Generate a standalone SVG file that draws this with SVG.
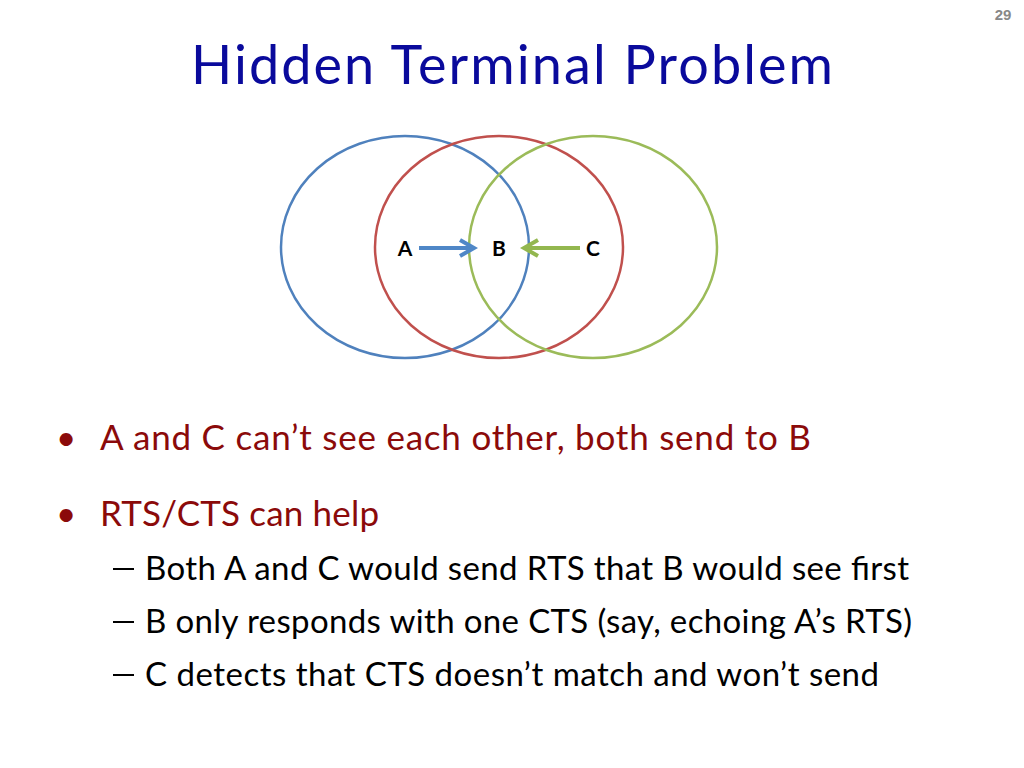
<svg xmlns="http://www.w3.org/2000/svg" width="1024" height="768" viewBox="0 0 1024 768">
<style>
text{font-family:Lato,"Open Sans",sans-serif}
.c{fill:none;stroke-width:2.5}
.n{font-weight:bold;font-size:21px;fill:#000;text-anchor:middle}
.b{font-size:35px;fill:#8b0a0a}
.s{font-size:33px;fill:#000}
</style>
<defs>
<marker id="ab" viewBox="0 0 10 10" refX="8" refY="5" markerWidth="5" markerHeight="5" orient="auto" markerUnits="strokeWidth"><path d="M1 1L8 5L1 9" fill="none" stroke="#4f87c7" stroke-width="2"/></marker>
<marker id="ag" viewBox="0 0 10 10" refX="8" refY="5" markerWidth="5" markerHeight="5" orient="auto" markerUnits="strokeWidth"><path d="M1 1L8 5L1 9" fill="none" stroke="#93b74f" stroke-width="2"/></marker>
</defs>
<rect width="1024" height="768" fill="#fff"/>
<text x="1003" y="20" font-size="15" font-weight="bold" fill="#888" text-anchor="middle" style="font-family:'Liberation Sans',sans-serif">29</text>
<text x="512" y="84" font-size="54" fill="#0a0a9c" text-anchor="middle" textLength="642">Hidden Terminal Problem</text>
<g id="circles">
<ellipse id="blue" class="c" cx="405" cy="247" rx="124" ry="111" stroke="#4f81bd"/>
<ellipse id="red" class="c" cx="499" cy="247" rx="124" ry="111" stroke="#c0504d"/>
<ellipse id="green" class="c" cx="593" cy="247" rx="124" ry="111" stroke="#9bbb59"/>
</g>
<g id="nA"><text class="n" x="405" y="256">A</text></g>
<g id="nB"><text class="n" x="499" y="256">B</text></g>
<g id="nC"><text class="n" x="593" y="256">C</text></g>
<g id="connectors">
<line x1="419" y1="248" x2="474" y2="248" stroke="#4f87c7" stroke-width="4" marker-end="url(#ab)"/>
<line x1="580" y1="248" x2="524" y2="248" stroke="#93b74f" stroke-width="4" marker-end="url(#ag)"/>
</g>
<g>
<text class="b" x="56" y="450">•</text>
<text class="b" x="100" y="450" textLength="711">A and C can’t see each other, both send to B</text>
<text class="b" x="56" y="526">•</text>
<text class="b" x="100" y="526" textLength="279">RTS/CTS can help</text>
<line x1="113" y1="569" x2="134" y2="569" stroke="#000" stroke-width="2"/>
<text class="s" x="145" y="580" textLength="764">Both A and C would send RTS that B would see first</text>
<line x1="113" y1="622" x2="134" y2="622" stroke="#000" stroke-width="2"/>
<text class="s" x="145" y="633" textLength="767">B only responds with one CTS (say, echoing A’s RTS)</text>
<line x1="113" y1="675" x2="134" y2="675" stroke="#000" stroke-width="2"/>
<text class="s" x="145" y="686" textLength="734">C detects that CTS doesn’t match and won’t send</text>
</g>
</svg>
